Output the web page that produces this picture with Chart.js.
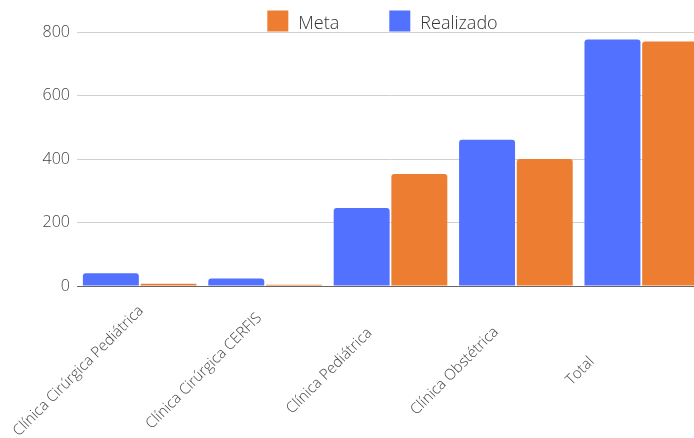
<!DOCTYPE html>
<html>
<head>
<meta charset="utf-8">
<script src="https://cdn.jsdelivr.net/npm/chart.js@4"></script>
<style>
    html, body { margin: 0; padding: 0; overflow: hidden; background: #fff; }
    #wrap { width: 704px; height: 438px; }
</style>
</head>
<body>
<div id="wrap"><canvas id="chart"></canvas></div>
<script>
const categories = ['Clínica Cirúrgica Pediátrica', 'Clínica Cirúrgica CERFIS', 'Clínica Pediátrica', 'Clínica Obstétrica', 'Total'];
const meta = [7, 4, 353, 400, 770];
const realizado = [40, 24, 246, 461, 776];
const yTicks = [0, 200, 400, 600, 800];

const orange = '#ed7d31';
const blue = '#5271ff';
const textColor = '#444';

Chart.defaults.font.family = "'Open Sans', sans-serif";

// legend drawn by hand: the spacing between items is wider than Chart.js allows
const topLegend = {
    id: 'topLegend',
    afterDraw(chart) {
        const ctx = chart.ctx;
        const area = chart.chartArea;
        ctx.save();
        ctx.font = '300 18px "Open Sans"';
        const items = chart.data.datasets.map(ds => ({ label: ds.label, color: ds.backgroundColor }));
        const box = 21, gap = 10, spacing = 50;
        let total = 0;
        items.forEach((it, i) => {
            it.w = ctx.measureText(it.label).width;
            total += box + gap + it.w + (i ? spacing : 0);
        });
        let x = (area.left + area.right) / 2 - total / 2 - 8;
        items.forEach(it => {
            ctx.fillStyle = it.color;
            ctx.fillRect(x, 10.5, box, box);
            ctx.fillStyle = '#333';
            ctx.textBaseline = 'alphabetic';
            ctx.fillText(it.label, x + box + gap, 28.5);
            x += box + gap + it.w + spacing;
        });
        ctx.restore();
    }
};

// rotated category labels, centred on the category boundaries
const slantLabels = {
    id: 'slantLabels',
    afterDraw(chart) {
        const ctx = chart.ctx;
        const xs = chart.scales.x;
        const step = xs.getPixelForValue(1) - xs.getPixelForValue(0);
        ctx.save();
        ctx.font = '300 15px "Open Sans"';
        ctx.fillStyle = textColor;
        ctx.textAlign = 'center';
        ctx.textBaseline = 'middle';
        chart.data.labels.forEach((label, i) => {
            const px = xs.getPixelForValue(i) - step / 2 + 1.5;
            ctx.save();
            ctx.translate(px, chart.chartArea.bottom + 85);
            ctx.rotate(-Math.PI / 4);
            ctx.fillText(label, 0, 0);
            ctx.restore();
        });
        ctx.restore();
    }
};

const ctx = document.getElementById('chart').getContext('2d');
new Chart(ctx, {
    type: 'bar',
    data: {
        labels: categories,
        datasets: [{
            label: 'Meta',
            data: meta,
            backgroundColor: orange,
            order: 1
        }, {
            label: 'Realizado',
            data: realizado,
            backgroundColor: blue,
            order: 0
        }]
    },
    options: {
        responsive: true,
        maintainAspectRatio: false,
        animation: false,
        layout: { padding: { top: 32, bottom: 144, left: 0, right: 0 } },
        datasets: {
            bar: {
                categoryPercentage: 0.92,
                barPercentage: 0.97,
                borderRadius: 3
            }
        },
        plugins: {
            legend: { display: false },
            tooltip: { enabled: false }
        },
        scales: {
            x: {
                grid: { display: false },
                ticks: { display: false },
                border: { display: true, color: '#666', width: 1 }
            },
            y: {
                min: 0,
                max: 800,
                afterBuildTicks(scale) {
                    scale.ticks = yTicks.map(v => ({ value: v }));
                },
                afterFit(scale) {
                    scale.width = 77;
                },
                ticks: {
                    padding: 7,
                    color: textColor,
                    font: { size: 16, weight: 300 }
                },
                grid: { color: '#d0d0d0', drawTicks: false },
                border: { display: false }
            }
        }
    },
    plugins: [topLegend, slantLabels]
});
</script>
</body>
</html>
